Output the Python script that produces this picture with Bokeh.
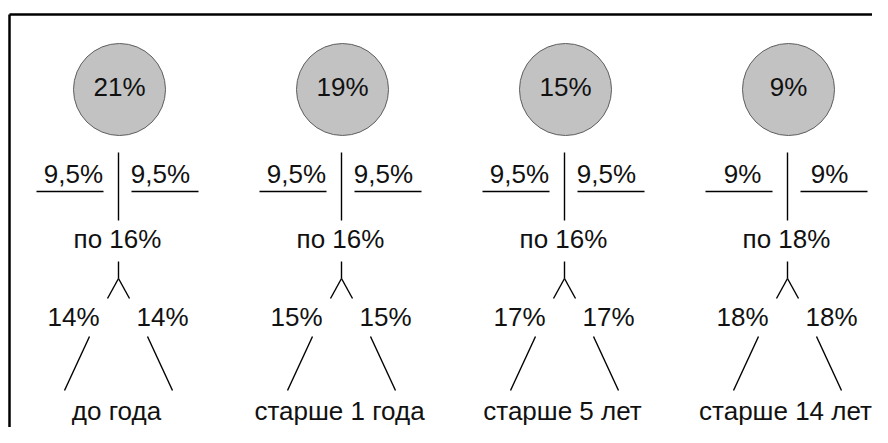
from bokeh.plotting import figure
from bokeh.models import Range1d
from bokeh.core.properties import value
from bokeh.embed import file_html
from bokeh.resources import INLINE

# ---- data ----
categories = ["до года", "старше 1 года", "старше 5 лет", "старше 14 лет"]
top_pct = ["21%", "19%", "15%", "9%"]
split_pct = ["9,5%", "9,5%", "9,5%", "9%"]
mid_pct = ["по 16%", "по 16%", "по 16%", "по 18%"]
branch_pct = ["14%", "15%", "17%", "18%"]

# ---- layout (pixel coordinates) ----
W, H = 872, 427
centers = [119, 342, 565, 788]
FONT = value("Liberation Sans")
FS = "26px"
TXT = dict(text_font=FONT, text_font_size=FS, text_align="center",
           text_baseline="alphabetic", text_color="#111111")
DY = -9  # compensation for rendered baseline offset

p = figure(width=W, height=H, output_backend="svg", toolbar_location=None,
           x_range=Range1d(0, W), y_range=Range1d(H, 0),
           min_border=0, outline_line_color=None)
p.axis.visible = False
p.grid.visible = False
p.background_fill_color = "white"
p.border_fill_color = "white"

# frame (top & left edges visible, rest cropped)
p.segment(x0=[9, 9], y0=[14, 14], x1=[W, 9], y1=[14, H],
          line_color="black", line_width=2.5)

# circles with top percentage
p.circle(x=centers, y=[89] * 4, radius=46, fill_color="#c2c2c2",
         line_color="#5e5e5e", line_width=1)
p.text(x=centers, y=[95 + DY] * 4, text=top_pct, **TXT)

# segments per group
x0, y0, x1, y1 = [], [], [], []
for cx in centers:
    segs = [
        (cx - 1, 152, cx - 1, 220),      # vertical stem
        (cx - 83, 191, cx - 16, 191),    # left underline
        (cx + 12, 191, cx + 79, 191),    # right underline
        (cx - 1, 261, cx - 1, 278),      # fork stem
        (cx - 1, 278, cx - 12, 298),     # fork left
        (cx - 1, 278, cx + 10, 298),     # fork right
        (cx - 30, 336, cx - 55, 390),    # left diagonal
        (cx + 28, 336, cx + 53, 390),    # right diagonal
    ]
    for a, b, c, d in segs:
        x0.append(a); y0.append(b); x1.append(c); y1.append(d)
p.segment(x0=x0, y0=y0, x1=x1, y1=y1, line_color="black", line_width=1.4)

# split labels
p.text(x=[c - 46 for c in centers], y=[182 + DY] * 4, text=split_pct, **TXT)
p.text(x=[c + 41 for c in centers], y=[182 + DY] * 4, text=split_pct, **TXT)

# mid label
p.text(x=[c - 2 for c in centers], y=[247 + DY] * 4, text=mid_pct, **TXT)

# branch labels
p.text(x=[c - 46 for c in centers], y=[325 + DY] * 4, text=branch_pct, **TXT)
p.text(x=[c + 43 for c in centers], y=[325 + DY] * 4, text=branch_pct, **TXT)

# category labels (lifted slightly so descenders stay inside the canvas)
p.text(x=[c - 3 for c in centers], y=[419 + DY] * 4, text=categories, **TXT)

open("out.html", "w").write(file_html(p, INLINE))
